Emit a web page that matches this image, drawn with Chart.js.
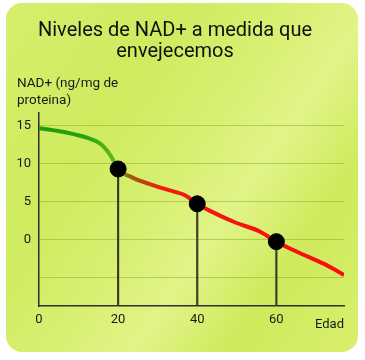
<!DOCTYPE html>
<html>
<head>
<meta charset="utf-8">
<script src="https://cdn.jsdelivr.net/npm/chart.js@4.4.1/dist/chart.umd.min.js"></script>
<style>
  html, body { margin: 0; padding: 0; background: #ffffff; }
  #wrap { position: relative; width: 365px; height: 360px; overflow: hidden; }
  #card {
    position: absolute; left: 6px; top: 3px; width: 352px; height: 349px;
    border-radius: 16px;
    background: linear-gradient(125deg, #d6ef6c 0%, #cfeb5f 30%, #d9f074 50%, #e1f488 62%, #cfea5c 78%, #d8ef6e 100%);
  }
  canvas { position: absolute; left: 0; top: 0; }
</style>
</head>
<body>
<div id="wrap">
  <div id="card"></div>
  <canvas id="c" width="365" height="360"></canvas>
</div>
<script>
// ---- data ----
const titleLines = ["Niveles de NAD+ a medida que", "envejecemos"];
const yTitleLines = ["NAD+ (ng/mg de", "proteina)"];
const xTitle = "Edad";
const xTicks = [0, 20, 40, 60];
const yTicks = [15, 10, 5, 0, -5];
const yTickLabels = ["15", "10", "5", "0", ""];
// smooth NAD+ curve (age, level)
const curveAges   = [0, 7.2, 12.3, 15.6, 18.2, 20, 23.5, 31.6, 37.0, 40, 43.1, 49.8, 55.8, 60, 67.2, 72.7, 77.1];
const curveLevels = [14.7, 14.1, 13.4, 12.6, 11.0, 9.3, 8.2, 6.7, 5.8, 4.7, 3.8, 2.2, 1.05, -0.3, -2.1, -3.4, -4.7];
// highlighted ages
const markAges   = [20, 40, 60];
const markLevels = [9.3, 4.7, -0.3];
const yMin = -8.8, yMax = 16.7, xMin = 0, xMax = 77.1;

const curveData = curveAges.map((a, i) => ({ x: a, y: curveLevels[i] }));
const markData = markAges.map((a, i) => ({ x: a, y: markLevels[i] }));
const dropData = markAges.map((a, i) => ({ x: a, y: [yMin, markLevels[i]] }));

const curveColor = (ctx) => {
  const chart = ctx.chart;
  const area = chart.chartArea;
  if (!area) return '#e00';
  const x0 = chart.scales.x.getPixelForValue(xMin);
  const x1 = chart.scales.x.getPixelForValue(xMax);
  const g = chart.ctx.createLinearGradient(x0, 0, x1, 0);
  g.addColorStop(0, '#1c9c0a');
  g.addColorStop(12 / xMax, '#2aa40c');
  g.addColorStop(19 / xMax, '#62b81c');
  g.addColorStop(23 / xMax, '#9a5c12');
  g.addColorStop(31 / xMax, '#ee1c0e');
  g.addColorStop(1, '#ff0a0a');
  return g;
};

const yTitlePlugin = {
  id: 'yTitle',
  afterDraw(chart) {
    const c = chart.ctx;
    const a = chart.chartArea;
    c.save();
    c.font = '13.5px Roboto';
    c.fillStyle = '#1a1a1a';
    c.textAlign = 'left';
    c.textBaseline = 'middle';
    c.fillText(yTitleLines[0], 17, a.top - 29);
    c.fillText(yTitleLines[1], 17, a.top - 12);
    c.restore();
  }
};

new Chart(document.getElementById('c'), {
  data: {
    datasets: [
      {
        type: 'bar',
        data: dropData,
        backgroundColor: '#3a3a30',
        borderWidth: 0,
        barThickness: 1.5,
        order: 3
      },
      {
        type: 'line',
        data: curveData,
        borderColor: curveColor,
        borderWidth: 4,
        pointRadius: 0,
        cubicInterpolationMode: 'monotone',
        fill: false,
        order: 2
      },
      {
        type: 'scatter',
        data: markData,
        backgroundColor: '#000000',
        borderColor: '#000000',
        pointRadius: 8,
        order: 1
      }
    ]
  },
  options: {
    responsive: false,
    animation: false,
    layout: { padding: { left: 6, right: 21, top: 12, bottom: 27 } },
    plugins: {
      legend: { display: false },
      tooltip: { enabled: false },
      title: {
        display: true,
        text: titleLines,
        color: '#111111',
        font: { family: 'Roboto', size: 20, weight: 'normal', lineHeight: 1.05 },
        padding: { top: 8, bottom: 51 }
      }
    },
    scales: {
      x: {
        type: 'linear',
        offset: false,
        min: xMin, max: xMax,
        afterBuildTicks: (s) => { s.ticks = xTicks.map(v => ({ value: v })); },
        afterFit: (s) => { s.height = 27; },
        grid: { display: false, drawTicks: false, offset: false },
        border: { display: true, color: '#2e2e2a', width: 1.5 },
        ticks: { color: '#1a1a1a', font: { family: 'Roboto', size: 13 }, padding: 6, maxRotation: 0 },
        title: {
          display: true, text: xTitle, align: 'end', color: '#1a1a1a',
          font: { family: 'Roboto', size: 13 }, padding: { top: 0, bottom: 0 }
        }
      },
      y: {
        type: 'linear',
        min: yMin, max: yMax,
        afterBuildTicks: (s) => { s.ticks = yTicks.map(v => ({ value: v })); },
        afterFit: (s) => { s.width = 33; },
        grid: { color: 'rgba(130,160,30,0.45)', lineWidth: 1, drawTicks: false },
        border: { display: true, color: '#2e2e2a', width: 1.5 },
        ticks: {
          color: '#1a1a1a', font: { family: 'Roboto', size: 13 }, padding: 8,
          callback: (v, i) => yTickLabels[i]
        }
      }
    }
  },
  plugins: [yTitlePlugin]
});
</script>
</body>
</html>
